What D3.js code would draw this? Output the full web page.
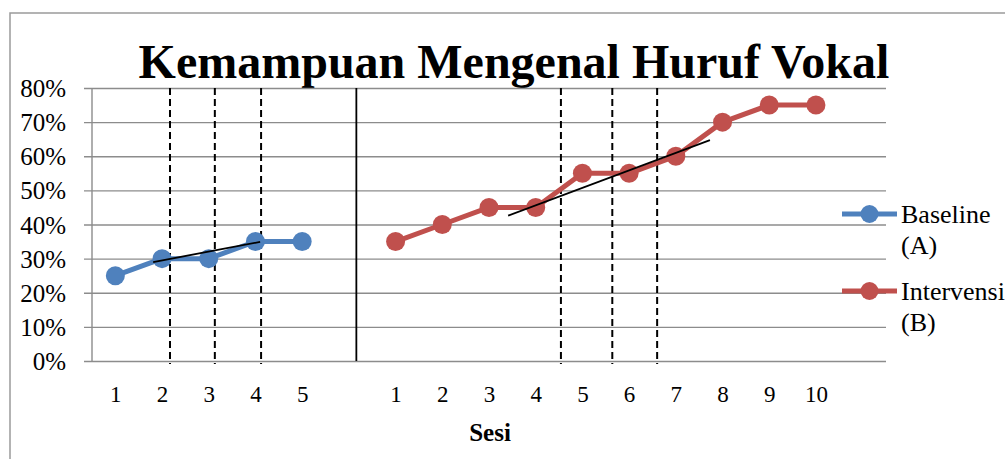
<!DOCTYPE html>
<html>
<head>
<meta charset="utf-8">
<script src="https://cdn.jsdelivr.net/npm/d3@7"></script>
<style>
  html, body { margin: 0; padding: 0; background: #fff; }
  svg { display: block; }
  text { font-family: "Liberation Serif", "Times New Roman", serif; fill: #000; }
</style>
</head>
<body>
<svg id="chart" width="1005" height="459"></svg>
<script>
// Session labels along the x axis (blank slots separate the phases)
const sessions = ["1","2","3","4","5","","1","2","3","4","5","6","7","8","9","10",""];
const yTicks = [0, 10, 20, 30, 40, 50, 60, 70, 80];

// Scores (%) per session
const baselineIdx = [0, 1, 2, 3, 4];
const baselineVal = [25, 30, 30, 35, 35];
const intervensiIdx = [6, 7, 8, 9, 10, 11, 12, 13, 14, 15];
const intervensiVal = [35, 40, 45, 45, 55, 55, 60, 70, 75, 75];

// Phase divider and median/stability guide lines (positions in session slots)
const phaseDivider = [5.16];
const dashedGuides = [1.17, 2.13, 3.12, 9.54, 10.64, 11.6];
// Trend lines: [slot, value] pairs
const trendBaseline = [[0.81, 29.0], [3.10, 34.9]];
const trendIntervensi = [[8.41, 42.6], [12.73, 64.7]];

const legendNames = [["Baseline", "(A)"], ["Intervensi", "(B)"]];
const colors = ["#4F81BD", "#C0504D"];

const serif = '"Liberation Serif", "Times New Roman", serif';
const svg = d3.select("#chart");
const plot = { left: 92, right: 886, top: 88, bottom: 361 };

const x = d3.scaleLinear().domain([-0.5, sessions.length - 0.5]).range([plot.left, plot.right]);
const y = d3.scaleLinear().domain([0, 80]).range([plot.bottom, plot.top]);

// Chart frame
svg.append("rect")
  .attr("x", 10).attr("y", 13).attr("width", 1010).attr("height", 470)
  .attr("fill", "none").attr("stroke", "#9a9a9a").attr("stroke-width", 1.5);

// Title
svg.append("text")
  .attr("x", 514).attr("y", 78)
  .attr("text-anchor", "middle")
  .style("font-size", "48px").style("font-weight", "bold")
  .text("Kemampuan Mengenal Huruf Vokal");

// Horizontal gridlines with left ticks
const yAxis = d3.axisLeft(y)
  .tickValues(yTicks)
  .tickSize(-(plot.right - plot.left))
  .tickFormat(d => d + "%");
const gy = svg.append("g").attr("transform", `translate(${plot.left},0)`).call(yAxis);
gy.attr("font-family", null);
gy.select(".domain").remove();
gy.selectAll(".tick line").attr("stroke", "#8c8c8c").attr("stroke-width", 1.4).attr("x1", -8);
gy.selectAll(".tick text")
  .attr("x", -26).attr("dy", "0.34em")
  .style("font-size", "25px").style("font-family", serif).attr("fill", "#000");

// Vertical axis line
svg.append("line")
  .attr("x1", plot.left).attr("x2", plot.left)
  .attr("y1", plot.top).attr("y2", plot.bottom)
  .attr("stroke", "#8c8c8c").attr("stroke-width", 1.4);

// Session labels
const xAxis = d3.axisBottom(x)
  .tickValues(d3.range(sessions.length))
  .tickSize(0)
  .tickFormat(i => sessions[i]);
const gx = svg.append("g").attr("transform", `translate(0,${plot.bottom})`).call(xAxis);
gx.attr("font-family", null);
gx.select(".domain").remove();
gx.selectAll(".tick text")
  .attr("y", 41).attr("dy", 0)
  .style("font-size", "23px").style("font-family", serif).attr("fill", "#000");

// Axis title
svg.append("text")
  .attr("x", 490).attr("y", 441)
  .attr("text-anchor", "middle")
  .style("font-size", "25px").style("font-weight", "bold")
  .text("Sesi");

// Dashed guides
svg.selectAll(".guide").data(dashedGuides).enter().append("line")
  .attr("class", "guide")
  .attr("x1", d => x(d)).attr("x2", d => x(d))
  .attr("y1", plot.top).attr("y2", plot.bottom + 3)
  .attr("stroke", "#000").attr("stroke-width", 2)
  .attr("stroke-dasharray", "7,4");

// Phase divider
svg.selectAll(".divider").data(phaseDivider).enter().append("line")
  .attr("class", "divider")
  .attr("x1", d => x(d)).attr("x2", d => x(d))
  .attr("y1", plot.top).attr("y2", plot.bottom)
  .attr("stroke", "#000").attr("stroke-width", 1.8);

// Series
const line = d3.line().x(d => x(d[0])).y(d => y(d[1]));
const series = [
  d3.zip(baselineIdx, baselineVal),
  d3.zip(intervensiIdx, intervensiVal)
];
series.forEach((pts, k) => {
  svg.append("path")
    .datum(pts)
    .attr("d", line)
    .attr("fill", "none")
    .attr("stroke", colors[k])
    .attr("stroke-width", 5)
    .attr("stroke-linejoin", "round");
  svg.append("g").selectAll("circle").data(pts).enter().append("circle")
    .attr("cx", d => x(d[0])).attr("cy", d => y(d[1]))
    .attr("r", 9.5).attr("fill", colors[k]);
});

// Trend lines
[trendBaseline, trendIntervensi].forEach(t => {
  svg.append("path").datum(t).attr("d", line)
    .attr("fill", "none").attr("stroke", "#000").attr("stroke-width", 1.8);
});

// Legend
const legendY = [214, 291];
legendNames.forEach((names, k) => {
  const g = svg.append("g");
  g.append("line")
    .attr("x1", 842).attr("x2", 897).attr("y1", legendY[k]).attr("y2", legendY[k])
    .attr("stroke", colors[k]).attr("stroke-width", 5);
  g.append("circle").attr("cx", 869.5).attr("cy", legendY[k]).attr("r", 9).attr("fill", colors[k]);
  const t = g.append("text").attr("x", 901).attr("y", legendY[k] + 9)
    .style("font-size", "26px");
  t.append("tspan").attr("x", 901).text(names[0]);
  t.append("tspan").attr("x", 901).attr("dy", 31).text(names[1]);
});
</script>
</body>
</html>
